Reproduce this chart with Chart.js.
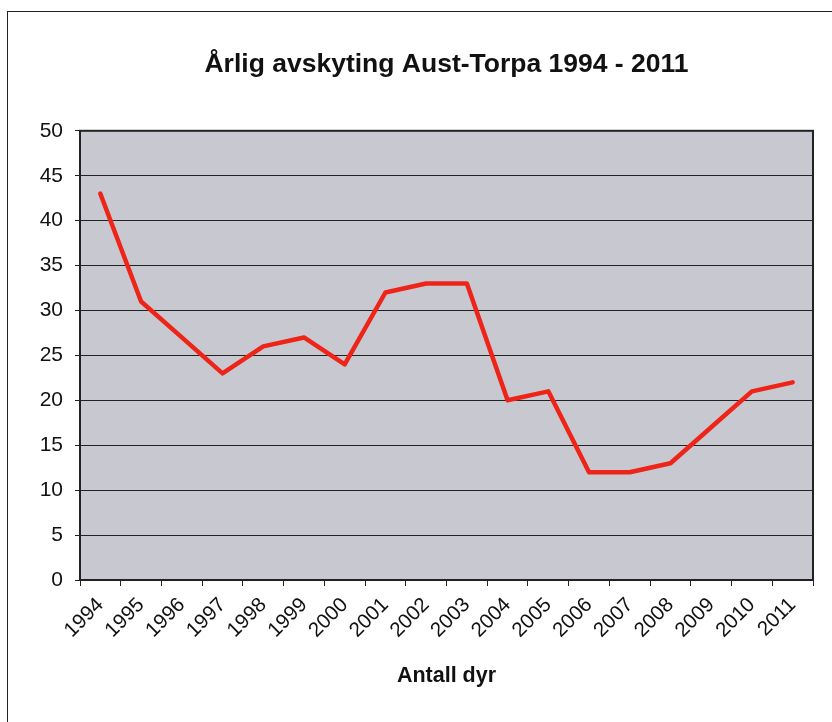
<!DOCTYPE html>
<html>
<head>
<meta charset="utf-8">
<script src="https://cdn.jsdelivr.net/npm/chart.js@4"></script>
<style>
  html, body { margin: 0; padding: 0; background: #fff; overflow: hidden; }
  #wrap { position: relative; width: 832px; height: 722px; }
  #frame { position: absolute; left: 7px; top: 11px; width: 900px; height: 800px; border: 1px solid #222; box-sizing: border-box; }
  canvas { position: absolute; left: 0; top: 0; }
</style>
</head>
<body>
<div id="wrap">
  <div id="frame"></div>
  <canvas id="chart" width="832" height="722"></canvas>
</div>
<script>
const years = ["1994", "1995", "1996", "1997", "1998", "1999", "2000", "2001", "2002",
  "2003", "2004", "2005", "2006", "2007", "2008", "2009", "2010", "2011"];
const antallDyr = [43, 31, 27, 23, 26, 27, 24, 32, 33, 33, 20, 21, 12, 12, 13, 17, 21, 22];
const chartTitle = "Årlig avskyting Aust-Torpa 1994 - 2011";
const xTitle = "Antall dyr";

const FONT = "'Liberation Sans', Arial, sans-serif";

// grey plot background + frame around the plot area
const plotArea = {
  id: "plotArea",
  beforeDraw(chart) {
    const { ctx, chartArea: a } = chart;
    ctx.save();
    ctx.fillStyle = "#c8c8d1";
    ctx.fillRect(a.left, a.top, a.right - a.left, a.bottom - a.top);
    ctx.restore();
  },
  afterDatasetsDraw(chart) {
    const { ctx, chartArea: a } = chart;
    ctx.save();
    ctx.strokeStyle = "#222";
    ctx.lineWidth = 2;
    ctx.strokeRect(a.left, a.top, a.right - a.left, a.bottom - a.top);
    ctx.restore();
  }
};

new Chart(document.getElementById("chart"), {
  type: "line",
  data: {
    labels: years,
    datasets: [
      {
        data: antallDyr,
        borderColor: "#ee2418",
        borderWidth: 4.5,
        pointRadius: 0,
        tension: 0,
        borderJoinStyle: "round",
        borderCapStyle: "round",
        fill: false,
      },
    ],
  },
  options: {
    responsive: false,
    animation: false,
    layout: { padding: { left: 0, right: 19, top: 0, bottom: 0 } },
    plugins: {
      legend: { display: false },
      tooltip: { enabled: false },
      title: {
        display: true,
        text: chartTitle,
        fullSize: false,
        color: "#111",
        font: { family: FONT, size: 26.5, weight: "bold", lineHeight: 1.2 },
        padding: { top: 49, bottom: 50 },
      },
    },
    scales: {
      x: {
        offset: true,
        afterFit(scale) { scale.height = 142; },
        grid: { offset: true, drawOnChartArea: false, color: "#222", tickLength: 6 },
        border: { display: true, color: "#222", width: 2 },
        ticks: {
          color: "#111",
          font: { family: FONT, size: 20.5 },
          minRotation: 45,
          maxRotation: 45,
          padding: 7,
          autoSkip: false,
        },
        title: {
          display: true,
          text: xTitle,
          color: "#111",
          font: { family: FONT, size: 21.5, weight: "bold", lineHeight: 1.2 },
          padding: { top: 0, bottom: 33 },
        },
      },
      y: {
        min: 0,
        max: 50,
        afterFit(scale) { scale.width = 80; },
        grid: { color: "#222", lineWidth: 1, tickLength: 5 },
        border: { display: true, color: "#222", width: 2 },
        ticks: {
          stepSize: 5,
          color: "#111",
          padding: 12,
          font: { family: FONT, size: 21 },
        },
      },
    },
  },
  plugins: [plotArea],
});
</script>
</body>
</html>
